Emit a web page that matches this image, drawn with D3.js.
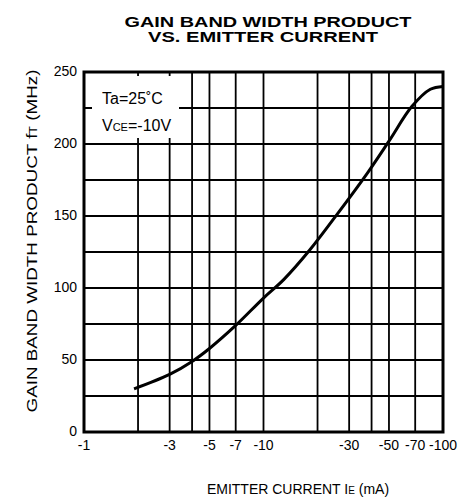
<!doctype html>
<html>
<head>
<meta charset="utf-8"/>
<title>Gain band width product vs. emitter current</title>
<script src="https://d3js.org/d3.v7.min.js"></script>
<style>
body{margin:0;background:#fff;}
text{font-family:"Liberation Sans",Arial,sans-serif;fill:#000;}
</style>
</head>
<body>
<script>
// data (|IE| in mA, fT in MHz)
var current = [1.9, 3, 4, 5, 7, 10, 13, 18, 26, 38, 50, 67, 85, 100];
var fT = [30, 40, 49, 58, 74, 93, 106, 126, 152, 180, 202, 226, 238, 240];

var xGrid = [2, 3, 4, 5, 7, 10, 20, 30, 40, 50, 70];
var xTicks = [1, 3, 5, 7, 10, 30, 50, 70, 100];
var yTicks = [0, 50, 100, 150, 200, 250];
var yGrid = [25, 50, 75, 100, 125, 150, 175, 200, 225];

var svg = d3.select("body").append("svg")
	.attr("width", 465)
	.attr("height", 503);

// plot box (note: "top" is reserved on window, so use other names)
var pL = 84, pR = 443, pT = 72, pB = 432;

var x = d3.scaleLog().domain([1, 100]).range([pL, pR]);
var y = d3.scaleLinear().domain([0, 250]).range([pB, pT]);

// title
svg.append("text").attr("x", 268).attr("y", 27)
	.attr("text-anchor", "middle").attr("font-size", 15.5).attr("font-weight", "bold")
	.attr("textLength", 287).attr("lengthAdjust", "spacingAndGlyphs")
	.text("GAIN BAND WIDTH PRODUCT");
svg.append("text").attr("x", 263).attr("y", 42)
	.attr("text-anchor", "middle").attr("font-size", 15.5).attr("font-weight", "bold")
	.attr("textLength", 230).attr("lengthAdjust", "spacingAndGlyphs")
	.text("VS. EMITTER CURRENT");

// grid
svg.selectAll(".vg").data(xGrid).enter().append("line")
	.attr("x1", function(d){return x(d)}).attr("x2", function(d){return x(d)})
	.attr("y1", pT).attr("y2", pB)
	.attr("stroke", "black").attr("stroke-width", 1.8);
svg.selectAll(".hg").data(yGrid).enter().append("line")
	.attr("y1", function(d){return y(d)}).attr("y2", function(d){return y(d)})
	.attr("x1", pL).attr("x2", pR)
	.attr("stroke", "black").attr("stroke-width", 1.8);

// condition box
svg.append("rect").attr("x", 92).attr("y", 76).attr("width", 87).attr("height", 62).attr("fill", "white");
var cond = svg.append("g").attr("font-size", 16);
cond.append("text").attr("x", 102).attr("y", 104).text("Ta=25˚C");
var vce = cond.append("text").attr("x", 102).attr("y", 131);
vce.append("tspan").text("V");
vce.append("tspan").attr("font-size", 11).text("CE");
vce.append("tspan").text("=-10V");

// frame
svg.append("rect").attr("x", pL).attr("y", pT)
	.attr("width", pR - pL).attr("height", pB - pT)
	.attr("fill", "none").attr("stroke", "black").attr("stroke-width", 3);

// curve
var line = d3.line()
	.x(function(d){return x(d[0])})
	.y(function(d){return y(d[1])})
	.curve(d3.curveCatmullRom.alpha(0.5));
svg.append("path")
	.datum(d3.zip(current, fT))
	.attr("d", line)
	.attr("fill", "none").attr("stroke", "black").attr("stroke-width", 3);

// tick labels
svg.selectAll(".xt").data(xTicks).enter().append("text")
	.attr("x", function(d){return x(d)}).attr("y", 450)
	.attr("text-anchor", "middle").attr("font-size", 14)
	.text(function(d){return "-" + d});
svg.selectAll(".yt").data(yTicks).enter().append("text")
	.attr("x", 77).attr("y", function(d){return y(d) + 4})
	.attr("text-anchor", "end").attr("font-size", 14)
	.text(function(d){return d});

// axis titles
var xt = svg.append("text").attr("x", 298).attr("y", 494)
	.attr("text-anchor", "middle").attr("font-size", 14);
xt.append("tspan").text("EMITTER CURRENT  I");
xt.append("tspan").attr("font-size", 10).text("E");
xt.append("tspan").text(" (mA)");

var yt = svg.append("text")
	.attr("transform", "translate(37,241) rotate(-90)")
	.attr("text-anchor", "middle").attr("font-size", 15)
	.attr("textLength", 343).attr("lengthAdjust", "spacingAndGlyphs");
yt.append("tspan").text("GAIN BAND WIDTH PRODUCT  f");
yt.append("tspan").attr("font-size", 10).text("T");
yt.append("tspan").text(" (MHz)");
</script>
</body>
</html>
